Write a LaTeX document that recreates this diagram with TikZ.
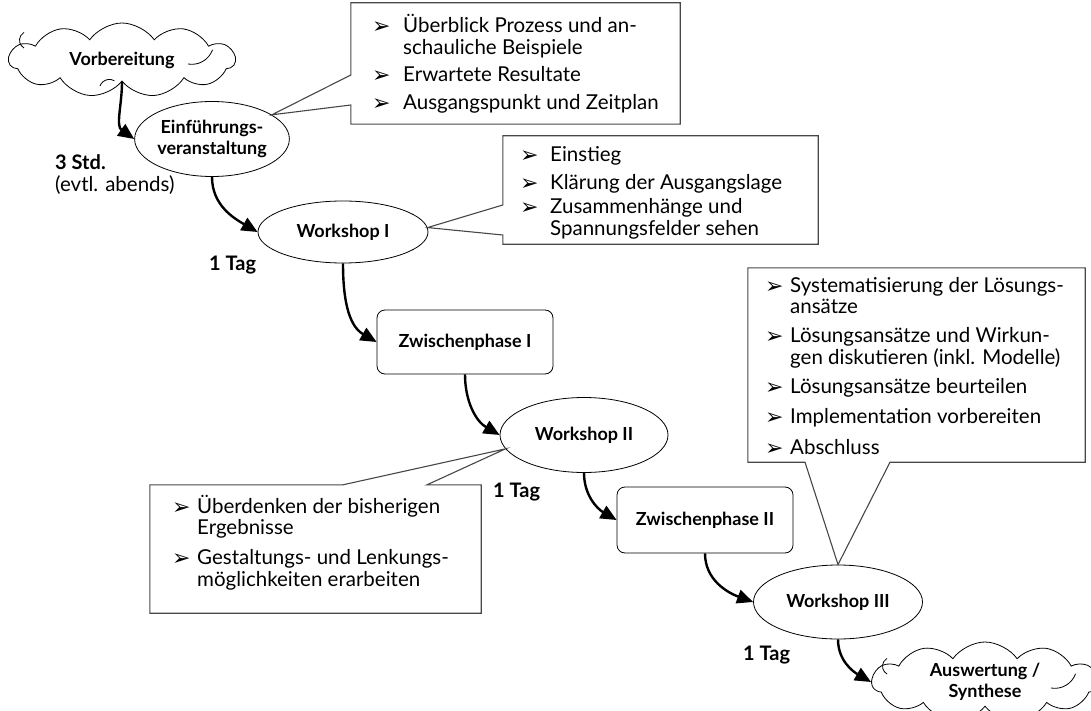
\documentclass[tikz,border=0pt]{standalone}
\usepackage{fontspec}
\setmainfont{Lato}
\newfontfamily\symfont{DejaVu Sans}
\usetikzlibrary{shapes.geometric,shapes.symbols,arrows.meta,calc}

% arrowhead bullet used in the note panels
\newcommand\bul{\smash{\raisebox{-1pt}{\symfont\fontsize{22}{22}\selectfont ➢}}}
\newcommand\notefont{\fontsize{20.5}{21}\selectfont}

\begin{document}
\begin{tikzpicture}[x=1pt,y=-1pt,
  lbl/.style={font=\bfseries\fontsize{18}{21}\selectfont, align=center},
  oval/.style={ellipse, draw, line width=0.8pt, fill=white, inner sep=0pt, lbl},
  phase/.style={rectangle, rounded corners=8pt, draw, line width=0.8pt, fill=white, inner sep=0pt, lbl},
  puff/.style={cloud, cloud puffs=11, cloud puff arc=110, cloud ignores aspect, draw, line width=0.8pt, fill=white, inner sep=0pt, lbl},
  fold/.style={line width=0.8pt},
  flow/.style={line width=2.4pt, -{Triangle[length=16pt,width=14pt]}},
  panel/.style={draw=none, inner sep=0pt},
  callout/.style={draw=black!72, line width=1.1pt, fill=white, line join=miter},
  note/.style={anchor=base west, inner sep=0pt, font=\notefont},
  dur/.style={anchor=base west, inner sep=0pt, font=\bfseries\fontsize{20}{21}\selectfont},
]
\useasboundingbox (0,0) rectangle (1091,711);

% process steps
\node[puff, minimum width=226, minimum height=74] (vor) at (122,60) {Vorbereitung};
\node[oval, minimum width=147, minimum height=75] (ein) at (212,139) {Einführungs-\\veranstaltung};
\node[oval, minimum width=170, minimum height=62] (ws1) at (343,232) {Workshop I};
\node[phase, minimum width=176, minimum height=64] (zw1) at (465,342) {Zwischenphase I};
\node[oval, minimum width=168, minimum height=75] (ws2) at (584,435) {Workshop II};
\node[phase, minimum width=176, minimum height=66] (zw2) at (705,520) {Zwischenphase II};
\node[oval, minimum width=169, minimum height=74] (ws3) at (838,602) {Workshop III};
\node[puff, minimum width=226, minimum height=80] (aus) at (985,682) {Auswertung /\\Synthese};

% small inner folds of the clouds
\draw[fold] ([shift={(-98,-12)}]vor.center) arc[start angle=120, end angle=240, radius=9];
\draw[fold] ([shift={(66,4)}]vor.center) arc[start angle=100, end angle=20, radius=22];
\draw[fold] ([shift={(-22,26)}]vor.center) arc[start angle=200, end angle=300, radius=10];
\draw[fold] ([shift={(-98,-8)}]aus.center) arc[start angle=120, end angle=240, radius=9];
\draw[fold] ([shift={(66,6)}]aus.center) arc[start angle=100, end angle=20, radius=22];

% note panels (outline drawn below with its pointer)
\node[panel, minimum width=329, minimum height=121] (b1) at (515.5,63.5) {};
\node[panel, minimum width=315, minimum height=108] (b2) at (660.5,190) {};
\node[panel, minimum width=331, minimum height=128] (b3) at (315.5,549) {};
\node[panel, minimum width=337, minimum height=194] (b4) at (916.5,365) {};

\draw[callout] (b1.north west) -- (b1.north east) -- (b1.south east) -- (b1.south west)
  -- (b1.west |- 0,105) -- (ein.22) -- (b1.west |- 0,75) -- cycle;
\draw[callout] (b2.north west) -- (b2.north east) -- (b2.south east) -- (b2.south west)
  -- (b2.west |- 0,235) -- (ws1.3) -- (b2.west |- 0,205) -- cycle;
\draw[callout] (b3.north west) -- (b3.north -| 343,0) -- (ws2.190) -- (b3.north -| 427,0)
  -- (b3.north east) -- (b3.south east) -- (b3.south west) -- cycle;
\draw[callout] (b4.north west) -- (b4.north east) -- (b4.south east) -- (b4.south -| 890,0)
  -- (ws3.north) -- (b4.south -| 805,0) -- (b4.south west) -- cycle;

% panel texts
\node[note] (t1) at (372,33) {\begin{tabular}[t]{@{}p{31pt}@{}l@{}}
  \bul & Überblick Prozess und an-\\ & schauliche Beispiele\\[6pt]
  \bul & Erwartete Resultate\\[6pt]
  \bul & Ausgangspunkt und Zeitplan
\end{tabular}};
\node[note] (t2) at (520,162) {\begin{tabular}[t]{@{}p{30pt}@{}l@{}}
  \bul & Einstieg\\[6pt]
  \bul & Klärung der Ausgangslage\\[3pt]
  \bul & Zusammenhänge und\\ & Spannungsfelder sehen
\end{tabular}};
\node[note] (t3) at (172,513) {\begin{tabular}[t]{@{}p{25pt}@{}l@{}}
  \bul & Überdenken der bisherigen\\ & Ergebnisse\\[9pt]
  \bul & Gestaltungs- und Lenkungs-\\ & möglichkeiten erarbeiten
\end{tabular}};
\node[note] (t4) at (765,292) {\begin{tabular}[t]{@{}p{25pt}@{}l@{}}
  \bul & Systematisierung der Lösungs-\\ & ansätze\\[8pt]
  \bul & Lösungsansätze und Wirkun-\\ & gen diskutieren (inkl. Modelle)\\[8pt]
  \bul & Lösungsansätze beurteilen\\[8pt]
  \bul & Implementation vorbereiten\\[10pt]
  \bul & Abschluss
\end{tabular}};

% durations
\node[dur] (d0) at (55,170) {3 Std.};
\node[note, font=\fontsize{20.5}{21}\selectfont] (d0b) at (55,192) {(evtl. abends)};
\node[dur] (d1) at (209,270) {1 Tag};
\node[dur] (d2) at (493,497) {1 Tag};
\node[dur] (d3) at (743,660) {1 Tag};

% sequence
\draw[flow] (vor.south) to[out=-90,in=145] (ein.west);
\draw[flow] (ein.south) to[out=-90,in=150] (ws1.west);
\draw[flow] (ws1.south) to[out=-90,in=150] (zw1.west);
\draw[flow] (zw1.south) to[out=-90,in=150] (ws2.west);
\draw[flow] (ws2.south) to[out=-90,in=150] (zw2.west);
\draw[flow] (zw2.south) to[out=-90,in=160] (ws3.west);
\draw[flow] (ws3.south) to[out=-90,in=150] (aus.west);
\end{tikzpicture}
\end{document}
